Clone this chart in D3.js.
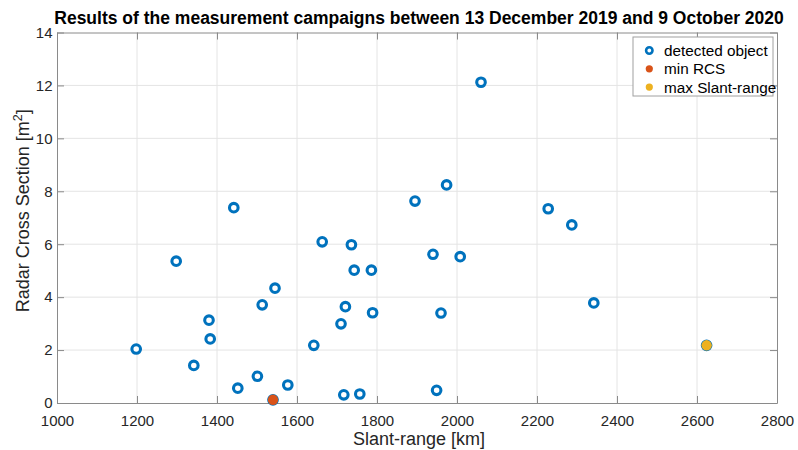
<!DOCTYPE html>
<html>
<head>
<meta charset="utf-8">
<script src="https://cdn.jsdelivr.net/npm/d3@7"></script>
<style>
  html, body { margin: 0; padding: 0; background: #fff; }
  svg { display: block; font-family: "Liberation Sans", Arial, sans-serif; }
</style>
</head>
<body>
<svg id="chart" width="798" height="450"></svg>
<script>
// Slant-range [km] and RCS [m^2] of every detected object
const slantRange = [1198, 1342, 1298, 1380, 1383, 1442, 1452, 1501, 1513, 1545, 1540,
  1577, 1642, 1663, 1710, 1721, 1736, 1743, 1717, 1757, 1786, 1789, 1895, 1974,
  1940, 2008, 1960, 1949, 2060, 2228, 2287, 2342, 2624];
const rcs = [2.04, 1.42, 5.36, 3.13, 2.42, 7.38, 0.56, 1.01, 3.71, 4.34, 0.12,
  0.68, 2.18, 6.09, 2.99, 3.64, 5.98, 5.02, 0.31, 0.34, 5.02, 3.41, 7.63, 8.24,
  5.62, 5.53, 3.40, 0.48, 12.12, 7.34, 6.73, 3.78, 2.18];

// Highlighted objects
const minRcsPoint = [1540, 0.12];
const maxRangePoint = [2624, 2.18];

const xTicks = [1000, 1200, 1400, 1600, 1800, 2000, 2200, 2400, 2600, 2800];
const yTicks = [0, 2, 4, 6, 8, 10, 12, 14];

const legendLabels = ["detected object", "min RCS", "max Slant-range"];

const colBlue = "#0072BD", colOrange = "#D95319", colYellow = "#EDB120";
const axisCol = "#262626";
const boxCol = "#8a8a8a";

const svg = d3.select("#chart");
const L = 57, R = 777, T = 32.5, B = 403;

const x = d3.scaleLinear().domain([1000, 2800]).range([L, R]);
const y = d3.scaleLinear().domain([0, 14]).range([B, T]);

// grid
const grid = svg.append("g");
grid.selectAll("line.gx").data(xTicks.slice(1, -1)).join("line")
  .attr("x1", d => x(d)).attr("x2", d => x(d)).attr("y1", T).attr("y2", B)
  .attr("stroke", "#e4e4e4").attr("stroke-width", 1);
grid.selectAll("line.gy").data(yTicks.slice(1, -1)).join("line")
  .attr("y1", d => y(d)).attr("y2", d => y(d)).attr("x1", L).attr("x2", R)
  .attr("stroke", "#e4e4e4").attr("stroke-width", 1);

// axes with inward ticks on all four sides
const tickLen = 7;
const fmt = d3.format("d");
const xAxis = svg.append("g").attr("transform", `translate(0,${B})`)
  .call(d3.axisBottom(x).tickValues(xTicks).tickFormat(fmt).tickSizeInner(-tickLen).tickSizeOuter(0).tickPadding(12));
const yAxis = svg.append("g").attr("transform", `translate(${L},0)`)
  .call(d3.axisLeft(y).tickValues(yTicks).tickFormat(fmt).tickSizeInner(-tickLen).tickSizeOuter(0).tickPadding(4.5));
const xTop = svg.append("g").attr("transform", `translate(0,${T})`)
  .call(d3.axisTop(x).tickValues(xTicks).tickSizeInner(-tickLen).tickSizeOuter(0).tickFormat(""));
const yRight = svg.append("g").attr("transform", `translate(${R},0)`)
  .call(d3.axisRight(y).tickValues(yTicks).tickSizeInner(-tickLen).tickSizeOuter(0).tickFormat(""));

[xAxis, yAxis, xTop, yRight].forEach(g => {
  g.selectAll(".domain").attr("stroke", boxCol).attr("stroke-width", 1);
  g.selectAll("line").attr("stroke", boxCol).attr("stroke-width", 1);
  g.selectAll("text").attr("fill", axisCol).style("font-size", "15px")
    .style("font-family", "'Liberation Sans', Arial, sans-serif");
});

// detected objects
svg.append("g").selectAll("circle").data(slantRange.map((d, i) => [d, rcs[i]])).join("circle")
  .attr("cx", d => x(d[0])).attr("cy", d => y(d[1])).attr("r", 4.3)
  .attr("fill", "#fff").attr("stroke", colBlue).attr("stroke-width", 3.1);

// highlighted objects
svg.append("circle").attr("cx", x(minRcsPoint[0])).attr("cy", y(minRcsPoint[1])).attr("r", 5.2)
  .attr("fill", colOrange);
svg.append("circle").attr("cx", x(maxRangePoint[0])).attr("cy", y(maxRangePoint[1])).attr("r", 5.2)
  .attr("fill", colYellow);

// title
svg.append("text").attr("x", (L + R) / 2 + 2).attr("y", 24).attr("text-anchor", "middle")
  .attr("fill", "#000").style("font-weight", "bold").style("font-size", "17.5px")
  .text("Results of the measurement campaigns between 13 December 2019 and 9 October 2020");

// axis labels
svg.append("text").attr("x", (L + R) / 2 + 2).attr("y", 445).attr("text-anchor", "middle")
  .attr("fill", axisCol).style("font-size", "18px").text("Slant-range [km]");
const yl = svg.append("text").attr("transform", `translate(29,${(T + B) / 2 - 7}) rotate(-90)`)
  .attr("text-anchor", "middle").attr("fill", axisCol).style("font-size", "18px");
yl.append("tspan").text("Radar Cross Section [m");
yl.append("tspan").attr("dy", -7).style("font-size", "12.5px").text("2");
yl.append("tspan").attr("dy", 7).text("]");

// legend
const lg = svg.append("g").attr("transform", "translate(633,37)");
lg.append("rect").attr("width", 140).attr("height", 59).attr("fill", "#fff")
  .attr("stroke", "#a0a0a0").attr("stroke-width", 1);
const items = lg.selectAll("g.item").data(legendLabels).join("g")
  .attr("transform", (d, i) => `translate(0,${13.5 + i * 18.3})`);
items.append("circle").attr("cx", 16.3).attr("cy", 0)
  .attr("r", (d, i) => i === 0 ? 3.2 : 3.6)
  .attr("fill", (d, i) => i === 0 ? "#fff" : (i === 1 ? colOrange : colYellow))
  .attr("stroke", (d, i) => i === 0 ? colBlue : "none")
  .attr("stroke-width", 2.6);
items.append("text").attr("x", 31).attr("y", 5.5).attr("fill", "#000")
  .style("font-size", "15.3px").text(d => d);
</script>
</body>
</html>
